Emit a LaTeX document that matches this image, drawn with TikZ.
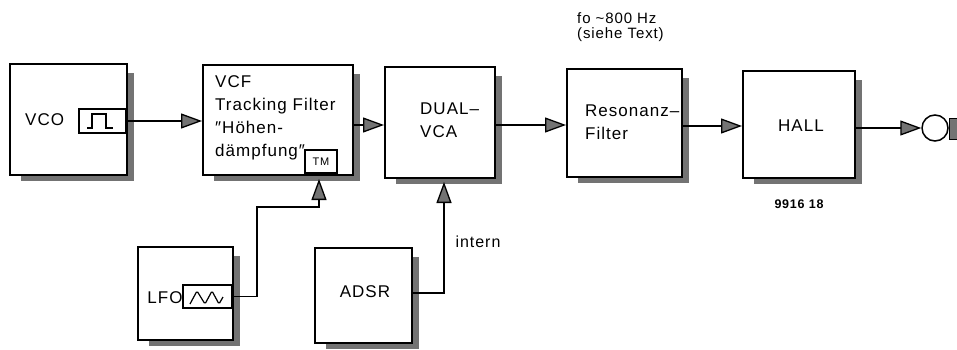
\documentclass[tikz,border=0pt]{standalone}
\usepackage{fontspec}
\setmainfont{Liberation Sans}[LetterSpace=6]
\usetikzlibrary{arrows.meta}
\newcommand{\boxshadow}[1]{%
  \fill[shadowcol] ([yshift=-10pt]#1.north east) rectangle ([xshift=6pt,yshift=-5pt]#1.south east);
  \fill[shadowcol] ([xshift=12pt]#1.south west) rectangle ([xshift=6pt,yshift=-5pt]#1.south east);}
\begin{document}
\begin{tikzpicture}[x=1pt,y=-1pt,
  shadowcol/.style={fill=black!55},
  blockbox/.style={draw, line width=2pt, fill=white, inner sep=0pt},
  inset/.style={draw, line width=1.3pt, fill=white, inner sep=0pt},
  bigtxt/.style={inner sep=0pt, align=left, font=\fontsize{17}{23}\selectfont},
  midtxt/.style={inner sep=0pt, align=left, font=\fontsize{15}{15}\selectfont},
  conn/.style={line width=1.3pt, -{Triangle[length=21pt,width=15pt,fill=black!55]}},
  plain/.style={line width=1.3pt}]
\useasboundingbox (0,0) rectangle (957,350);

% blocks
\node[blockbox, minimum width=117pt, minimum height=111pt] (vco) at (68.5,119.5) {};
\node[blockbox, minimum width=150pt, minimum height=110pt] (vcf) at (278,120) {};
\node[blockbox, minimum width=110pt, minimum height=111pt] (dual) at (440,122.5) {};
\node[blockbox, minimum width=115pt, minimum height=108pt] (res) at (624.5,123) {};
\node[blockbox, minimum width=112pt, minimum height=107pt] (hall) at (799,124.5) {};
\node[blockbox, minimum width=95pt, minimum height=93pt] (lfo) at (185.5,293.5) {};
\node[blockbox, minimum width=97pt, minimum height=95pt] (adsr) at (363.5,295.5) {};
\boxshadow{vco}
\boxshadow{vcf}
\boxshadow{dual}
\boxshadow{res}
\boxshadow{hall}
\boxshadow{lfo}
\boxshadow{adsr}

% insets
\node[inset, minimum width=47pt, minimum height=24pt] (vcoinset) at (102.5,121) {};
\draw[line width=1.1pt] (87,128) -- (92,128) -- (92,114) -- (106,114) -- (106,128) -- (113,128);
\node[inset, minimum width=49pt, minimum height=23pt] (lfoinset) at (207.5,296.5) {};
\draw[line width=1.2pt, rounded corners=1.5pt] (190,304) -- (197,291) -- (205,304) -- (212,291) -- (219,304) -- (223,297);
\node[inset, minimum width=32pt, minimum height=23pt, font=\fontsize{11}{11}\selectfont] (tm) at (321,161.5) {TM};

% texts
\node[bigtxt, anchor=west] (vcotxt) at (25,120) {VCO};
\node[bigtxt, anchor=north west] (vcftxt) at (215,75) {VCF\\Tracking Filter\\″Höhen-\\dämpfung″};
\node[bigtxt, anchor=north west] (dualtxt) at (420,103) {DUAL–\\VCA};
\node[bigtxt, anchor=north west] (restxt) at (585,105) {Resonanz–\\Filter};
\node[bigtxt] (halltxt) at (801,126) {HALL};
\node[bigtxt] (lfotxt) at (165,298) {LFO};
\node[bigtxt] (adsrtxt) at (365,292) {ADSR};
\node[midtxt, anchor=north west] (fotxt) at (577,12) {fo \textasciitilde800 Hz\\(siehe Text)};
\node[inner sep=0pt, font=\fontsize{16}{16}\selectfont] (interntxt) at (478,242) {intern};
\node[inner sep=0pt, font=\bfseries\fontsize{12.5}{12.5}\selectfont] (numtxt) at (799,204) {9916 18};

% output jack
\node[draw, circle, line width=1.5pt, minimum size=26pt, inner sep=0pt] (jack) at (935,128) {};
\node[draw, line width=1pt, fill=black!55, minimum width=10pt, minimum height=21pt, inner sep=0pt] (plug) at (954,128.5) {};

% connectors
\coordinate (r1) at (0,125);
\coordinate (r2) at (0,126);
\coordinate (r3) at (0,128);
\draw[conn] (vcoinset.east) -- (vcoinset.east -| vcf.west);
\draw[conn] (vcf.east |- r1) -- (dual.west |- r1);
\draw[conn] (dual.east |- r1) -- (res.west |- r1);
\draw[conn] (res.east |- r2) -- (hall.west |- r2);
\draw[conn] (hall.east |- r3) -- (jack.west);
\coordinate (lfoup) at (257,207);
\draw[conn] (lfoinset.east) -| (lfoup) -| ([xshift=-2pt,yshift=-3pt]tm.south |- vcf.south);
\draw[conn] (adsr.east |- 0,293) -| ([xshift=4pt,yshift=-3pt]dual.south);
\end{tikzpicture}
\end{document}
